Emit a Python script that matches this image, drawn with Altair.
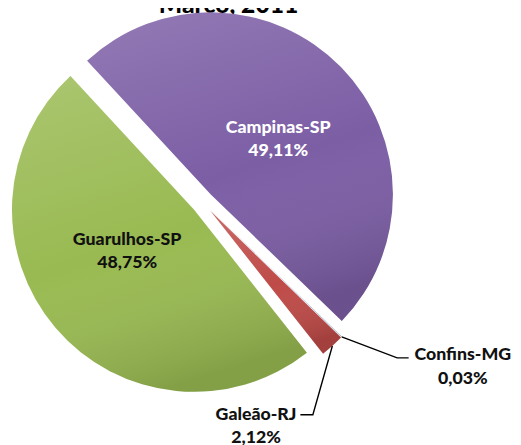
import math
import altair as alt
import pandas as pd

# ---------------- data ----------------
aeroportos = ["Confins-MG", "Galeão-RJ", "Guarulhos-SP", "Campinas-SP"]
percentuais = [0.03, 2.12, 48.75, 49.11]
titulo = "Março, 2011"

# ---------------- style / layout ----------------
cores = ["#4F81BD", "#BE4B48", "#99BA52", "#7C5EA5"]
cores_texto = ["#111111", "#111111", "#111111", "#FFFFFF"]
FONT = "Lato"
FS = 18.0
W, H = 513, 437
CX, CY = 197.8, 194.0      # pie centre (chart px)
R = 185                    # radius
EXPLODE = 11.5             # slice explosion
START_DEG = 134.0          # angle where the first slice starts
# label anchors (first-line baseline, chart px) and leader-line elbows/ends
label_pos = {
    "Campinas-SP": (274.5, 123.1),
    "Guarulhos-SP": (121.0, 236.9),
    "Confins-MG": (462.0, 354.6),
    "Galeão-RJ": (252.0, 415.1),
}
leaders = {
    "Confins-MG": [(395.3, 352.0), (407.0, 352.0)],
    "Galeão-RJ": [(309.7, 409.7), (297.0, 409.7)],
}

# ---------------- derived geometry ----------------
total = sum(percentuais)
start = math.radians(START_DEG)
t1 = pd.Series(percentuais).cumsum().tolist()
t0 = [a - b for a, b in zip(t1, percentuais)]
mid = [start + 2 * math.pi * (a + b) / 2 / total for a, b in zip(t0, t1)]

df = pd.DataFrame({
    "aeroporto": aeroportos,
    "valor": percentuais,
    "t0": t0,
    "t1": t1,
    "cx": [CX + EXPLODE * math.sin(m) for m in mid],
    "cy": [CY - EXPLODE * math.cos(m) for m in mid],
})

theta_scale = alt.Scale(domain=[0, total], range=[start, start + 2 * math.pi])

base_arc = alt.Chart(df).encode(
    theta=alt.Theta("t0:Q", scale=theta_scale, stack=None),
    theta2="t1:Q",
    x=alt.X("cx:Q", scale=None, axis=None),
    y=alt.Y("cy:Q", scale=None, axis=None),
)
arcs = base_arc.mark_arc(radius=R).encode(
    color=alt.Color("aeroporto:N", scale=alt.Scale(domain=aeroportos, range=cores), legend=None),
)
shade = base_arc.mark_arc(
    radius=R,
    color=alt.Gradient(
        gradient="linear", x1=0.2, y1=0, x2=0.5, y2=1,
        stops=[
            alt.GradientStop(offset=0, color="rgba(255,255,255,0.16)"),
            alt.GradientStop(offset=0.55, color="rgba(255,255,255,0.0)"),
            alt.GradientStop(offset=1, color="rgba(0,0,0,0.14)"),
        ],
    ),
)

lab = pd.DataFrame({
    "txt": [f"{a}\n{f'{v:.2f}'.replace('.', ',')}%" for a, v in zip(aeroportos, percentuais)],
    "lx": [label_pos[a][0] for a in aeroportos],
    "ly": [label_pos[a][1] for a in aeroportos],
    "cor": cores_texto,
})
labels = alt.Chart(lab).mark_text(
    font=FONT, fontSize=FS, fontWeight=900, lineBreak="\n", lineHeight=23.5,
    align="center", baseline="alphabetic",
).encode(
    x=alt.X("lx:Q", scale=None, axis=None),
    y=alt.Y("ly:Q", scale=None, axis=None),
    text="txt:N",
    color=alt.Color("cor:N", scale=None),
)

rows = []
for i, a in enumerate(aeroportos):
    if a in leaders:
        m = mid[i]
        sx = CX + (R + EXPLODE) * math.sin(m)
        sy = CY - (R + EXPLODE) * math.cos(m)
        pts = [(sx, sy)] + leaders[a]
        for k, (px, py) in enumerate(pts):
            rows.append({"seg": a, "k": k, "px": px, "py": py})
lead = alt.Chart(pd.DataFrame(rows)).mark_line(color="#000000", strokeWidth=1.4).encode(
    x=alt.X("px:Q", scale=None, axis=None),
    y=alt.Y("py:Q", scale=None, axis=None),
    detail="seg:N",
    order="k:Q",
)

title = alt.Chart(pd.DataFrame({"t": [titulo]})).mark_text(
    font=FONT, fontSize=25, fontWeight=900, align="center", baseline="alphabetic", color="#000000"
).encode(text="t:N", x=alt.value(224), y=alt.value(2))

chart = alt.layer(title, arcs, shade, lead, labels).properties(
    width=W, height=H, padding=0, autosize=alt.AutoSizeParams(type="none")
).configure_view(stroke=None)

chart.save("out.html", embed_options={"renderer": "svg", "actions": False})
